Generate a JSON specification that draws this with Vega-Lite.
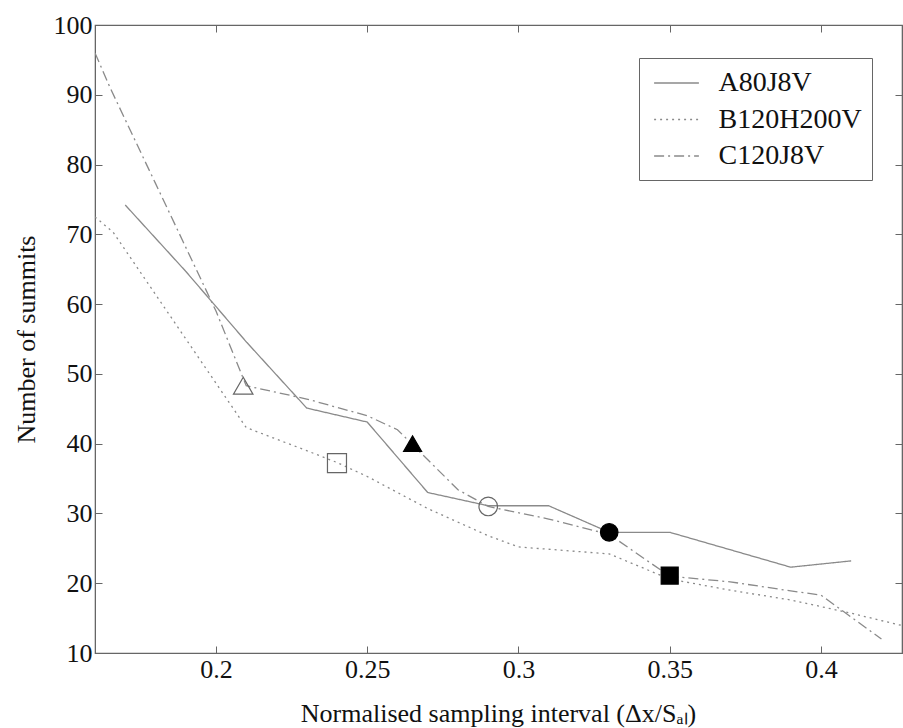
{
  "$schema": "https://vega.github.io/schema/vega-lite/v6.json",
  "width": 807,
  "height": 628,
  "autosize": {"type": "none"},
  "padding": {"left": 95, "top": 25, "right": 1, "bottom": 75},
  "background": "white",
  "config": {
    "font": "Liberation Serif",
    "view": {"stroke": "#666", "strokeWidth": 1.2},
    "axis": {
      "labelFont": "Liberation Serif",
      "titleFont": "Liberation Serif",
      "labelFontSize": 26,
      "titleFontSize": 26,
      "labelColor": "#111",
      "titleColor": "#111",
      "titleFontWeight": "normal",
      "domainColor": "#666",
      "tickColor": "#666",
      "grid": false
    }
  },
  "datasets": {
    "curves": [
      {"series": "A80J8V", "x": 0.17, "y": 74.2},
      {"series": "A80J8V", "x": 0.19, "y": 64.7},
      {"series": "A80J8V", "x": 0.21, "y": 54.6},
      {"series": "A80J8V", "x": 0.23, "y": 45.1},
      {"series": "A80J8V", "x": 0.25, "y": 43.1},
      {"series": "A80J8V", "x": 0.27, "y": 33.0},
      {"series": "A80J8V", "x": 0.29, "y": 31.1},
      {"series": "A80J8V", "x": 0.31, "y": 31.1},
      {"series": "A80J8V", "x": 0.33, "y": 27.3},
      {"series": "A80J8V", "x": 0.35, "y": 27.3},
      {"series": "A80J8V", "x": 0.37, "y": 24.8},
      {"series": "A80J8V", "x": 0.39, "y": 22.3},
      {"series": "A80J8V", "x": 0.41, "y": 23.2},
      {"series": "B120H200V", "x": 0.16, "y": 72.5},
      {"series": "B120H200V", "x": 0.166, "y": 70.3},
      {"series": "B120H200V", "x": 0.21, "y": 42.3},
      {"series": "B120H200V", "x": 0.23, "y": 39.0},
      {"series": "B120H200V", "x": 0.24, "y": 37.3},
      {"series": "B120H200V", "x": 0.25, "y": 35.3},
      {"series": "B120H200V", "x": 0.27, "y": 30.7},
      {"series": "B120H200V", "x": 0.29, "y": 26.8},
      {"series": "B120H200V", "x": 0.30, "y": 25.2},
      {"series": "B120H200V", "x": 0.33, "y": 24.2},
      {"series": "B120H200V", "x": 0.35, "y": 20.6},
      {"series": "B120H200V", "x": 0.37, "y": 19.0},
      {"series": "B120H200V", "x": 0.39, "y": 17.6},
      {"series": "B120H200V", "x": 0.41, "y": 15.7},
      {"series": "B120H200V", "x": 0.43, "y": 13.6},
      {"series": "C120J8V", "x": 0.16, "y": 96.0},
      {"series": "C120J8V", "x": 0.165, "y": 91.0},
      {"series": "C120J8V", "x": 0.18, "y": 77.3},
      {"series": "C120J8V", "x": 0.20, "y": 59.0},
      {"series": "C120J8V", "x": 0.21, "y": 48.3},
      {"series": "C120J8V", "x": 0.23, "y": 46.4},
      {"series": "C120J8V", "x": 0.25, "y": 44.0},
      {"series": "C120J8V", "x": 0.26, "y": 42.0},
      {"series": "C120J8V", "x": 0.28, "y": 33.4},
      {"series": "C120J8V", "x": 0.29, "y": 31.0},
      {"series": "C120J8V", "x": 0.31, "y": 29.2},
      {"series": "C120J8V", "x": 0.33, "y": 27.0},
      {"series": "C120J8V", "x": 0.35, "y": 21.0},
      {"series": "C120J8V", "x": 0.37, "y": 20.2},
      {"series": "C120J8V", "x": 0.39, "y": 18.9},
      {"series": "C120J8V", "x": 0.40, "y": 18.3},
      {"series": "C120J8V", "x": 0.42, "y": 12.0}
    ],
    "markers": [
      {"marker": "open triangle", "x": 0.209, "y": 48.3},
      {"marker": "open square", "x": 0.24, "y": 37.2},
      {"marker": "open circle", "x": 0.29, "y": 31.0},
      {"marker": "filled triangle", "x": 0.265, "y": 40.0},
      {"marker": "filled circle", "x": 0.33, "y": 27.3},
      {"marker": "filled square", "x": 0.35, "y": 21.1}
    ]
  },
  "layer": [
    {
      "data": {"name": "curves"},
      "mark": {"type": "line", "color": "#8a8a8a", "strokeWidth": 1.3, "clip": true},
      "encoding": {
        "x": {
          "field": "x", "type": "quantitative",
          "scale": {"domain": [0.16, 0.4268], "nice": false, "zero": false},
          "axis": {
            "orient": "bottom",
            "values": [0.2, 0.25, 0.3, 0.35, 0.4],
            "format": "~g",
            "tickSize": -7,
            "labelPadding": 10,
            "title": "Normalised sampling interval (Δx/Sₐₗ)",
            "titleX": 403,
            "titleY": 60,
            "titleAlign": "center",
            "titleBaseline": "middle"
          }
        },
        "y": {
          "field": "y", "type": "quantitative",
          "scale": {"domain": [10, 100], "nice": false, "zero": false},
          "axis": {
            "orient": "left",
            "values": [10, 20, 30, 40, 50, 60, 70, 80, 90, 100],
            "tickSize": -7,
            "labelPadding": 10,
            "title": "Number of summits",
            "titleX": -69,
            "titleY": 314,
            "titleAngle": -90,
            "titleAlign": "center",
            "titleBaseline": "middle"
          }
        },
        "detail": {"field": "series"},
        "strokeDash": {
          "field": "series", "type": "nominal",
          "scale": {
            "domain": ["A80J8V", "B120H200V", "C120J8V"],
            "range": [[1, 0], [2, 4], [10, 4, 2, 4]]
          },
          "legend": {
            "title": null,
            "orient": "none",
            "legendX": 544,
            "legendY": 33,
            "fillColor": "white",
            "strokeColor": "#666",
            "padding": 10,
            "labelFont": "Liberation Serif",
            "labelFontSize": 28,
            "labelColor": "#111",
            "labelOffset": 27,
            "rowPadding": 7.5,
            "symbolType": "M-1.6,0H1.6",
            "symbolSize": 784,
            "symbolOffset": 12.5,
            "symbolStrokeWidth": 1.3,
            "symbolStrokeColor": "#8a8a8a",
            "symbolFillColor": "transparent"
          }
        }
      }
    },
    {
      "data": {"name": "markers"},
      "mark": {"type": "point", "strokeWidth": 1.2, "opacity": 1},
      "encoding": {
        "x": {"field": "x", "type": "quantitative", "axis": null},
        "y": {"field": "y", "type": "quantitative", "axis": null},
        "shape": {
          "field": "marker", "type": "nominal",
          "scale": {
            "domain": ["open triangle", "open square", "open circle", "filled triangle", "filled circle", "filled square"],
            "range": ["triangle-up", "square", "circle", "triangle-up", "circle", "square"]
          },
          "legend": null
        },
        "fill": {
          "field": "marker", "type": "nominal",
          "scale": {
            "domain": ["open triangle", "open square", "open circle", "filled triangle", "filled circle", "filled square"],
            "range": ["transparent", "transparent", "transparent", "#000000", "#000000", "#000000"]
          },
          "legend": null
        },
        "stroke": {
          "field": "marker", "type": "nominal",
          "scale": {
            "domain": ["open triangle", "open square", "open circle", "filled triangle", "filled circle", "filled square"],
            "range": ["#666666", "#666666", "#666666", "#000000", "#000000", "#000000"]
          },
          "legend": null
        },
        "size": {
          "field": "marker", "type": "nominal",
          "scale": {
            "domain": ["open triangle", "open square", "open circle", "filled triangle", "filled circle", "filled square"],
            "range": [380, 289, 190, 380, 250, 289]
          },
          "legend": null
        }
      }
    },
    {
      "data": {"name": "markers"},
      "mark": {"type": "point", "opacity": 0},
      "encoding": {
        "x": {
          "field": "x", "type": "quantitative",
          "axis": {"orient": "top", "values": [0.2, 0.25, 0.3, 0.35, 0.4], "labels": false, "title": null, "tickSize": -7}
        },
        "y": {
          "field": "y", "type": "quantitative",
          "axis": {"orient": "right", "values": [10, 20, 30, 40, 50, 60, 70, 80, 90, 100], "labels": false, "title": null, "tickSize": -7}
        }
      }
    }
  ],
  "resolve": {"axis": {"x": "independent", "y": "independent"}}
}
